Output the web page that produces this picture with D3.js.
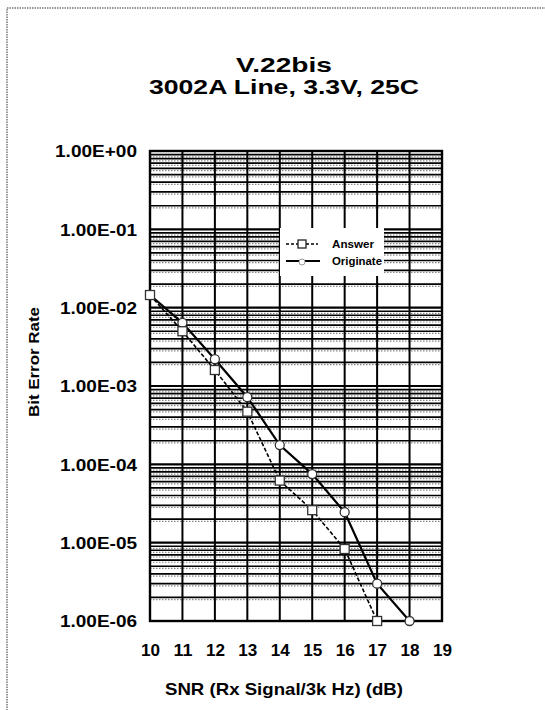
<!DOCTYPE html>
<html><head><meta charset="utf-8">
<script src="https://cdn.jsdelivr.net/npm/d3@7"></script>
<style>
html,body{margin:0;padding:0;background:#fff;}
svg{display:block;font-family:"Liberation Sans",Arial,Helvetica,sans-serif;font-weight:bold;}
</style></head>
<body>
<svg id="chart" width="545" height="710"></svg>
<script>
// ---- data ----
const titleLines = ["V.22bis", "3002A Line, 3.3V, 25C"];
const snrAnswer = [10, 11, 12, 13, 14, 15, 16, 17];
const berAnswer = [1.45e-2, 5.0e-3, 1.6e-3, 4.7e-4, 6.2e-5, 2.6e-5, 8.3e-6, 1.0e-6];
const snrOriginate = [10, 11, 12, 13, 14, 15, 16, 17, 18];
const berOriginate = [1.45e-2, 6.4e-3, 2.2e-3, 7.2e-4, 1.76e-4, 7.5e-5, 2.45e-5, 3.0e-6, 1.0e-6];
const xTicks = [10, 11, 12, 13, 14, 15, 16, 17, 18, 19];
const yTicks = [1, 1e-1, 1e-2, 1e-3, 1e-4, 1e-5, 1e-6];
const yTickLabels = ["1.00E+00", "1.00E-01", "1.00E-02", "1.00E-03", "1.00E-04", "1.00E-05", "1.00E-06"];
const seriesNames = ["Answer", "Originate"];
const xTitle = "SNR (Rx Signal/3k Hz) (dB)";
const yTitle = "Bit Error Rate";

// ---- layout ----
const svg = d3.select("#chart");
const L = 150, R = 442, T = 151, B = 621;
const x = d3.scaleLinear().domain([10, 19]).range([L, R]);
const y = d3.scaleLog().domain([1e-6, 1]).range([B, T]);

// outer dotted frame
svg.append("rect").attr("x", 7).attr("y", 8).attr("width", 560).attr("height", 720)
  .attr("fill", "none").attr("stroke", "#777").attr("stroke-width", 1.5).attr("stroke-dasharray", "1.5,1");

// title
svg.append("text").attr("x", 284).attr("y", 72).attr("text-anchor", "middle")
  .attr("font-size", 21).attr("textLength", 96).attr("lengthAdjust", "spacingAndGlyphs").text(titleLines[0]);
svg.append("text").attr("x", 284).attr("y", 94).attr("text-anchor", "middle")
  .attr("font-size", 21).attr("textLength", 270).attr("lengthAdjust", "spacingAndGlyphs").text(titleLines[1]);

// grid
const g = svg.append("g");
const minor = [];
for (let e = -6; e < 0; e++) for (let k = 2; k <= 9; k++) minor.push(k * Math.pow(10, e));
g.selectAll("line.minord").data(minor).join("line")
  .attr("x1", L).attr("x2", R).attr("y1", d => y(d) + 2.2).attr("y2", d => y(d) + 2.2)
  .attr("stroke", "#888").attr("stroke-width", 1.2).attr("stroke-dasharray", "1.5,1.5");
g.selectAll("line.minor").data(minor).join("line")
  .attr("x1", L).attr("x2", R).attr("y1", d => y(d)).attr("y2", d => y(d))
  .attr("stroke", "#000").attr("stroke-width", 1.7);
g.selectAll("line.major").data(yTicks).join("line")
  .attr("x1", L).attr("x2", R).attr("y1", d => y(d)).attr("y2", d => y(d))
  .attr("stroke", "#000").attr("stroke-width", 2.2);
g.selectAll("line.vert").data(xTicks).join("line")
  .attr("x1", d => x(d)).attr("x2", d => x(d)).attr("y1", T).attr("y2", B)
  .attr("stroke", "#000").attr("stroke-width", 2);
svg.append("rect").attr("x", L).attr("y", T).attr("width", R - L).attr("height", B - T)
  .attr("fill", "none").attr("stroke", "#000").attr("stroke-width", 2.4);

// axes labels via d3 axes (lines hidden)
const yAxis = svg.append("g").attr("transform", `translate(${L - 12},0)`)
  .call(d3.axisLeft(y).tickValues(yTicks).tickFormat((d, i) => yTickLabels[i]).tickSize(0));
yAxis.select(".domain").remove();
yAxis.selectAll("text").attr("font-size", 17).attr("font-family", "Liberation Sans, Arial, sans-serif")
  .attr("font-weight", "bold").attr("fill", "#000").attr("dy", "0.35em").attr("x", -1)
  .attr("textLength", (d, i) => i === 0 ? 82 : 77).attr("lengthAdjust", "spacingAndGlyphs");

const xAxis = svg.append("g").attr("transform", `translate(0,${B})`)
  .call(d3.axisBottom(x).tickValues(xTicks).tickFormat(d3.format("d")).tickSize(0));
xAxis.select(".domain").remove();
xAxis.selectAll("text").attr("font-size", 16).attr("font-family", "Liberation Sans, Arial, sans-serif")
  .attr("font-weight", "bold").attr("fill", "#000").attr("dy", 0).attr("y", 35)
  .attr("textLength", 19).attr("lengthAdjust", "spacingAndGlyphs");

// axis titles
svg.append("text").attr("x", 284).attr("y", 695).attr("text-anchor", "middle")
  .attr("font-size", 17).attr("textLength", 238).attr("lengthAdjust", "spacingAndGlyphs").text(xTitle);
svg.append("text").attr("transform", "translate(39,362) rotate(-90)").attr("text-anchor", "middle")
  .attr("font-size", 15).attr("textLength", 110).attr("lengthAdjust", "spacingAndGlyphs").text(yTitle);

// series
const ans = snrAnswer.map((s, i) => [s, berAnswer[i]]);
const ori = snrOriginate.map((s, i) => [s, berOriginate[i]]);
const line = d3.line().x(d => x(d[0])).y(d => y(d[1]));
svg.append("path").datum(ori).attr("d", line).attr("fill", "none")
  .attr("stroke", "#000").attr("stroke-width", 2.2);
svg.append("path").datum(ans).attr("d", line).attr("fill", "none")
  .attr("stroke", "#000").attr("stroke-width", 1.6).attr("stroke-dasharray", "4,2");
svg.selectAll("circle.ori").data(ori).join("circle")
  .attr("cx", d => x(d[0])).attr("cy", d => y(d[1])).attr("r", 4.5)
  .attr("fill", "#fff").attr("stroke", "#333").attr("stroke-width", 1.3);
svg.selectAll("rect.ans").data(ans).join("rect")
  .attr("x", d => x(d[0]) - 4.5).attr("y", d => y(d[1]) - 4.5).attr("width", 9).attr("height", 9)
  .attr("fill", "#fff").attr("stroke", "#333").attr("stroke-width", 1.3);

// legend
const lg = svg.append("g");
lg.append("rect").attr("x", 280).attr("y", 228).attr("width", 104).attr("height", 48).attr("fill", "#fff");
lg.append("line").attr("x1", 286).attr("x2", 318).attr("y1", 244).attr("y2", 244)
  .attr("stroke", "#000").attr("stroke-width", 1.4).attr("stroke-dasharray", "3,2");
lg.append("rect").attr("x", 298).attr("y", 240).attr("width", 8).attr("height", 8)
  .attr("fill", "#fff").attr("stroke", "#222").attr("stroke-width", 1.3);
lg.append("line").attr("x1", 286).attr("x2", 320).attr("y1", 261).attr("y2", 261)
  .attr("stroke", "#000").attr("stroke-width", 2);
lg.append("circle").attr("cx", 302).attr("cy", 262).attr("r", 3)
  .attr("fill", "#fff").attr("stroke", "#999").attr("stroke-width", 1);
lg.selectAll("text").data(seriesNames).join("text")
  .attr("x", 332).attr("y", (d, i) => 248 + i * 17).attr("font-size", 10)
  .attr("textLength", (d, i) => i === 0 ? 42 : 50).attr("lengthAdjust", "spacingAndGlyphs").text(d => d);
</script>
</body></html>
